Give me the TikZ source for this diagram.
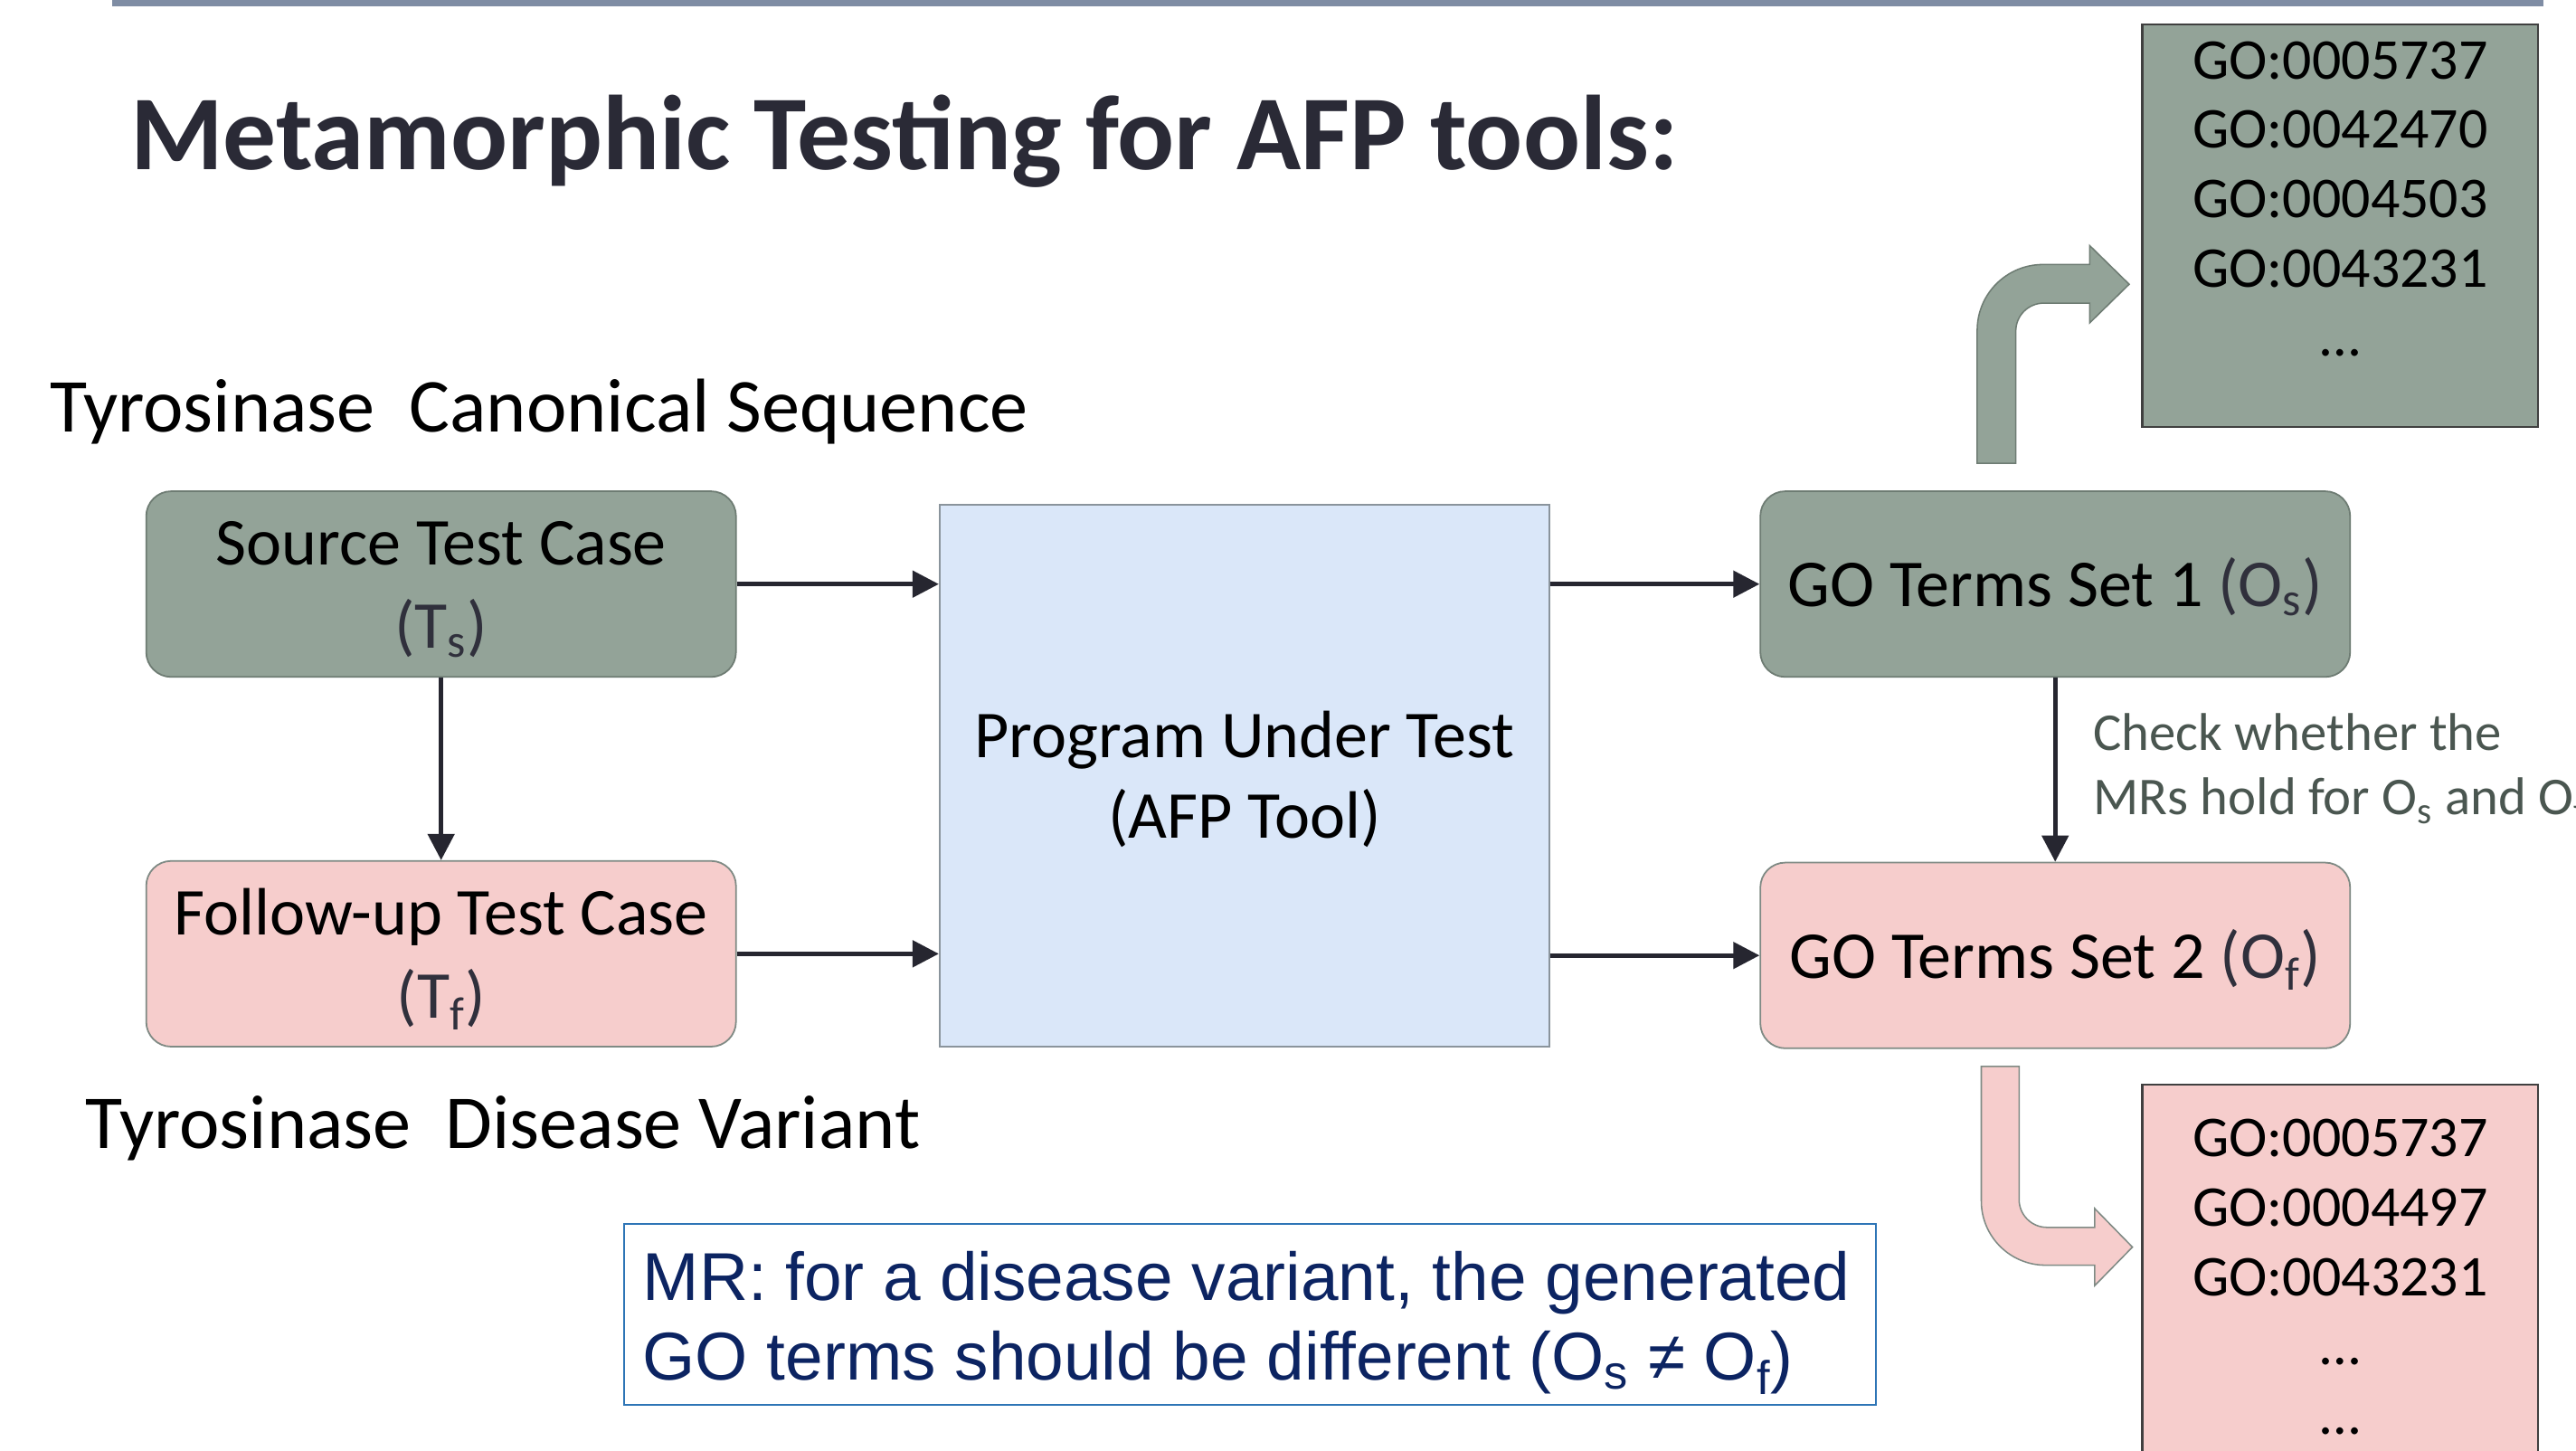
\documentclass[tikz,border=0pt]{standalone}
\usepackage{fontspec}
\setmainfont{Carlito}
\newfontfamily\arialfont{Liberation Sans}
\usetikzlibrary{arrows.meta}

\definecolor{sage}{HTML}{93A398}
\definecolor{sageline}{HTML}{6E7C73}
\definecolor{rose}{HTML}{F6CDCC}
\definecolor{roseline}{HTML}{7F8A84}
\definecolor{sky}{HTML}{DAE7F9}
\definecolor{skyline}{HTML}{8A949C}
\definecolor{ink}{HTML}{262630}
\definecolor{subink}{HTML}{30303C}
\definecolor{barcol}{HTML}{7F8DA4}
\definecolor{navy}{HTML}{0C2462}
\definecolor{mrblue}{HTML}{2E75B6}
\definecolor{notegray}{HTML}{4A5650}
\definecolor{titleink}{HTML}{2A2A36}

% centred lines, set slightly low without changing the box size
\newcommand{\lowlines}[1]{\raisebox{-0.9mm}[\height][\depth]{\begin{tabular}{@{}c@{}}#1\end{tabular}}}

\tikzset{
  casebox/.style={rounded corners=3.8mm, line width=0.7pt, minimum width=89.75mm,
    minimum height=28.25mm, align=center, inner sep=0pt,
    font=\fontsize{29}{36}\selectfont},
  listbox/.style={line width=0.8pt, draw=black!75, minimum width=60.25mm, inner sep=0pt},
  listtext/.style={align=center, inner sep=0pt, font=\fontsize{25}{30}\selectfont},
  sidelabel/.style={anchor=base west, inner sep=0pt, font=\fontsize{33}{40}\selectfont},
  conn/.style={draw=ink, line width=1.9pt, -{Triangle[length=4mm,width=4mm]}},
  bentarrow/.style={line width=0.6pt, line join=miter},
}

\begin{document}
\begin{tikzpicture}[x=0.25mm, y=-0.25mm]
\useasboundingbox (0,0) rectangle (1568,883);
\fill[white] (0,0) rectangle (1568,883);

% header rule
\fill[barcol] (68,0) rectangle (1548,4);

% title
\node[anchor=base west, inner sep=0pt, text=titleink,
  font=\fontsize{46}{56}\selectfont\bfseries] (title) at (79,103)
  {Metamorphic Testing for AFP tools:};

% side labels
\node[sidelabel] (canon) at (30,263) {Tyrosinase\ \ Canonical Sequence};
\node[sidelabel] (variant) at (52,699) {Tyrosinase\ \ Disease Variant};

% test cases
\node[casebox, fill=sage, draw=sageline] (src) at (268.5,355.5)
  {\lowlines{Source Test Case\\\textcolor{subink}{(T\textsubscript{s})}}};
\node[casebox, fill=rose, draw=roseline] (fup) at (268.5,580.5)
  {\lowlines{Follow-up Test Case\\\textcolor{subink}{(T\textsubscript{f})}}};

% program under test
\node[fill=sky, draw=skyline, line width=0.8pt, minimum width=92.75mm,
  minimum height=82.5mm, align=center, inner sep=0pt,
  font=\fontsize{29}{35}\selectfont] (put) at (757.5,472)
  {\lowlines{Program Under Test\\(AFP Tool)}};

% outputs
\node[casebox, fill=sage, draw=sageline] (go1) at (1251,355.5)
  {\lowlines{GO Terms Set 1 \textcolor{subink}{(O\textsubscript{s})}}};
\node[casebox, fill=rose, draw=roseline] (go2) at (1251,581.5)
  {\lowlines{GO Terms Set 2 \textcolor{subink}{(O\textsubscript{f})}}};

% connectors
\draw[conn] (src.east) -- (src.east -| put.west);
\draw[conn] (fup.east) -- (fup.east -| put.west);
\draw[conn] (put.east |- go1.west) -- (go1.west);
\draw[conn] (put.east |- go2.west) -- (go2.west);
\draw[conn] (src.south) -- (fup.north);
\draw[conn] (go1.south) -- (go2.north);

% check note (anchored on the baseline of its last line)
\node[anchor=base west, inner sep=0pt, align=left, text=notegray,
  font=\fontsize{23}{28}\selectfont] (check) at (1274,496)
  {Check whether the\\MRs hold for O\textsubscript{s} and O\textsubscript{f}};

% GO term lists
\node[listbox, fill=sage, minimum height=61.25mm] (list1) at (1424.5,137.5) {};
\node[listtext, anchor=north] (list1txt) at (1424.5,25)
  {GO:0005737\\GO:0042470\\GO:0004503\\GO:0043231\\…};
\node[listbox, fill=rose, minimum height=60mm] (list2) at (1424.5,780) {};
\node[listtext, anchor=north] (list2txt) at (1424.5,681)
  {GO:0005737\\GO:0004497\\GO:0043231\\…\\…};

% bent arrow to the first list
\filldraw[bentarrow, fill=sage, draw=sageline]
  (1203.5,282) -- (1203.5,201)
  .. controls (1203.5,178.9) and (1221.4,161) .. (1243.5,161)
  -- (1272,161) -- (1272,149.5) -- (1296,173) -- (1272,196.5) -- (1272,184.5)
  -- (1244,184.5)
  .. controls (1234.6,184.5) and (1227,192.1) .. (1227,201.5)
  -- (1227,282) -- cycle;

% bent arrow to the second list
\filldraw[bentarrow, fill=rose, draw=roseline]
  (1206,649) -- (1206,731)
  .. controls (1206,752.5) and (1223.5,770) .. (1245,770)
  -- (1275,770) -- (1275,782.5) -- (1298,759) -- (1275,735.5) -- (1275,747)
  -- (1246,747)
  .. controls (1236.6,747) and (1229,739.4) .. (1229,730)
  -- (1229,649) -- cycle;

% metamorphic relation
\node[draw=mrblue, fill=white, line width=0.8pt, minimum width=190.5mm,
  minimum height=27.5mm, inner sep=0pt] (mr) at (761,800) {};
\node[anchor=base west, inner sep=0pt, align=left, text=navy,
  font=\arialfont\fontsize{29.3}{34.5}\selectfont] (mrtxt) at (391,840)
  {MR: for a disease variant, the generated\\GO terms should be different (O\textsubscript{s} ≠ O\textsubscript{f})};
\end{tikzpicture}
\end{document}
